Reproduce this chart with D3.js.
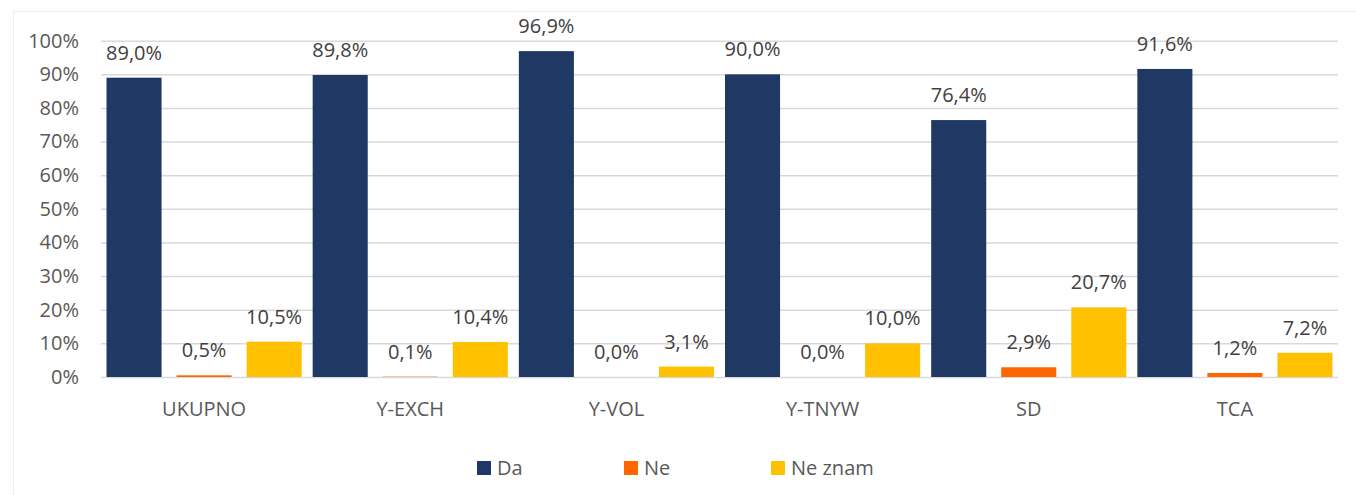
<!DOCTYPE html>
<html>
<head>
<meta charset="utf-8">
<script src="https://cdn.jsdelivr.net/npm/d3@7"></script>
<style>
  html, body { margin: 0; padding: 0; background: #fff; }
  svg { display: block; }
  text { font-family: "Open Sans", "Noto Sans", sans-serif; }
</style>
</head>
<body>
<svg id="chart" width="1356" height="495"></svg>
<script>
const categories = ["UKUPNO", "Y-EXCH", "Y-VOL", "Y-TNYW", "SD", "TCA"];
const seriesNames = ["Da", "Ne", "Ne znam"];
const daValues = [89.0, 89.8, 96.9, 90.0, 76.4, 91.6];
const neValues = [0.5, 0.1, 0.0, 0.0, 2.9, 1.2];
const neZnamValues = [10.5, 10.4, 3.1, 10.0, 20.7, 7.2];
const yTicks = [0, 10, 20, 30, 40, 50, 60, 70, 80, 90, 100];
const colors = ["#203864", "#FF6600", "#FFC000"];

const seriesValues = [daValues, neValues, neZnamValues];
const data = categories.map((c, i) => ({
  cat: c,
  vals: seriesNames.map((s, j) => ({ s, j, v: seriesValues[j][i] }))
}));

const svg = d3.select("#chart");
const plotLeft = 101, plotRight = 1338, plotTop = 40.7, plotBottom = 377;

// faint chart border
svg.append("path")
  .attr("d", `M13.5,495 V11.5 H1356`)
  .attr("fill", "none").attr("stroke", "#eeeeee").attr("stroke-width", 1);

const x0 = d3.scaleBand().domain(categories).range([plotLeft, plotRight])
  .paddingInner(0.0534).paddingOuter(0.0267);
const x1 = d3.scaleBand().domain(seriesNames).range([0, x0.bandwidth()])
  .paddingInner(0.214).paddingOuter(0);
const y = d3.scaleLinear().domain([0, 100]).range([plotBottom, plotTop]);

// gridlines
const yAxis = d3.axisLeft(y).tickValues(yTicks).tickFormat(d => d + "%")
  .tickSize(-(plotRight - plotLeft)).tickPadding(22);
const gy = svg.append("g").attr("transform", `translate(${plotLeft},0)`).call(yAxis);
gy.select(".domain").remove();
gy.selectAll(".tick line").attr("stroke", "#d9d9d9").attr("stroke-width", 1.5);
gy.selectAll(".tick text").attr("fill", "#595959").attr("font-size", "20px")
  .attr("font-family", "\"Open Sans\", sans-serif");

// bars
const groups = svg.append("g").selectAll("g").data(data).join("g")
  .attr("transform", d => `translate(${x0(d.cat)},0)`);
groups.selectAll("rect").data(d => d.vals).join("rect")
  .attr("x", d => x1(d.s))
  .attr("width", x1.bandwidth())
  .attr("y", d => y(d.v))
  .attr("height", d => y(0) - y(d.v))
  .attr("fill", d => colors[d.j]);

// data labels
groups.selectAll("text").data(d => d.vals).join("text")
  .attr("x", d => x1(d.s) + x1.bandwidth() / 2)
  .attr("y", d => y(d.v) - 18)
  .attr("text-anchor", "middle")
  .attr("fill", "#404040")
  .attr("font-size", "20px")
  .text(d => d.v.toFixed(1).replace(".", ",") + "%");

// x axis labels
const xAxis = d3.axisBottom(x0).tickSize(0).tickPadding(25);
const gx = svg.append("g").attr("transform", `translate(0,${plotBottom})`).call(xAxis);
gx.select(".domain").remove();
gx.selectAll(".tick text").attr("fill", "#595959").attr("font-size", "20px")
  .attr("font-family", "\"Open Sans\", sans-serif");

// legend
const legendX = [477, 624, 771];
const leg = svg.append("g").selectAll("g").data(seriesNames).join("g")
  .attr("transform", (d, i) => `translate(${legendX[i]},461)`);
leg.append("rect").attr("width", 14).attr("height", 14).attr("fill", (d, i) => colors[i]);
leg.append("text").attr("x", 20).attr("y", 14).attr("fill", "#595959")
  .attr("font-size", "20px").text(d => d);
</script>
</body>
</html>
